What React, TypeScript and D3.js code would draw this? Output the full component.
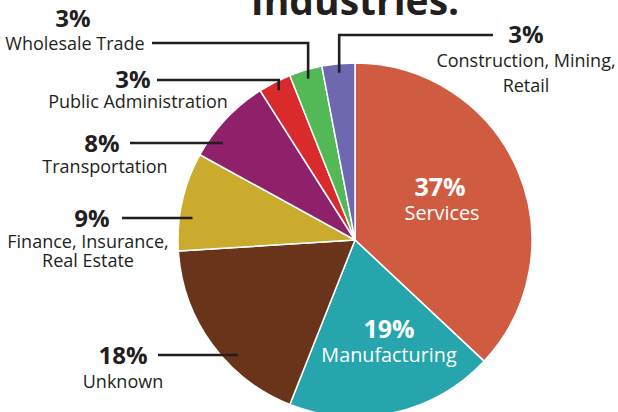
import React from 'react';
import * as d3 from 'd3';

// slices clockwise from 12 o'clock
const industries = [
  'Services',
  'Manufacturing',
  'Unknown',
  'Finance, Insurance,\nReal Estate',
  'Transportation',
  'Public Administration',
  'Wholesale Trade',
  'Construction, Mining,\nRetail',
];
const shares = [37, 19, 18, 9, 8, 3, 3, 3];
const colors = ['#cf5c40', '#26a5ad', '#6a341b', '#cbab2d', '#8e2169', '#d92b2b', '#53b856', '#6d68b0'];

const W = 618;
const H = 412;
const cx = 355;
const cy = 240;
const R = 177;
const ink = '#231f20';
const font = "'Open Sans', sans-serif";

// label layout: inside labels for big slices, leader lines for the rest
type Label = {
  i: number;
  pctX: number;
  pctY: number;
  nameX: number;
  nameY: number;
  lineH?: number;
  inside?: boolean;
  leader?: { x0: number; y: number; kind: 'h' | 'elbow' };
};

const labels: Label[] = [
  { i: 0, pctX: 440, pctY: 196, nameX: 442, nameY: 220, inside: true },
  { i: 1, pctX: 389, pctY: 338, nameX: 389, nameY: 362, inside: true },
  { i: 2, pctX: 123, pctY: 364, nameX: 123, nameY: 388, leader: { x0: 158, y: 355, kind: 'h' } },
  { i: 3, pctX: 92, pctY: 227, nameX: 88, nameY: 248, lineH: 19, leader: { x0: 122, y: 218, kind: 'h' } },
  { i: 4, pctX: 102, pctY: 152, nameX: 105, nameY: 173, leader: { x0: 130, y: 143, kind: 'h' } },
  { i: 5, pctX: 133, pctY: 88, nameX: 138, nameY: 108, leader: { x0: 157, y: 80, kind: 'elbow' } },
  { i: 6, pctX: 73, pctY: 27, nameX: 75, nameY: 50, leader: { x0: 152, y: 43, kind: 'elbow' } },
  { i: 7, pctX: 526, pctY: 43, nameX: 526, nameY: 67, lineH: 25, leader: { x0: 493, y: 35, kind: 'elbow' } },
];

export default function App() {
  const pie = d3.pie<number>().sort(null).value(d => d);
  const arcs = pie(shares);
  const arc = d3.arc<d3.PieArcDatum<number>>().innerRadius(0).outerRadius(R);

  const leaderPath = (l: Label) => {
    const a = arcs[l.i];
    const { x0, y, kind } = l.leader!;
    if (kind === 'h') {
      const rr = R - 13;
      const dy = y - cy;
      const x1 = cx - Math.sqrt(rr * rr - dy * dy);
      return d3.line()([[x0, y], [x1, y]]);
    }
    const mid = (a.startAngle + a.endAngle) / 2;
    const rr = R - 9;
    const px = cx + rr * Math.sin(mid);
    const py = cy - rr * Math.cos(mid);
    return d3.line()([[x0, y], [px, y], [px, py]]);
  };

  return (
    <svg width={W} height={H} style={{ position: 'absolute', left: 0, top: 0, background: '#fff' }} fontFamily={font}>
      <text x={cx} y={15} textAnchor="middle" fontSize={39} fontWeight={700} fill={ink}>
        Industries:
      </text>

      <g transform={`translate(${cx},${cy})`}>
        {arcs.map((a, i) => (
          <path key={i} d={arc(a) || ''} fill={colors[i]} stroke="#fff" strokeWidth={1.5} strokeLinejoin="round" />
        ))}
      </g>

      {labels.map(l => {
        const fill = l.inside ? '#fff' : ink;
        const lines = industries[l.i].split('\n');
        const lh = l.lineH ?? 20;
        return (
          <g key={l.i}>
            {l.leader && (
              <path d={leaderPath(l) || ''} fill="none" stroke={ink} strokeWidth={2.6} />
            )}
            <text x={l.pctX} y={l.pctY} textAnchor="middle" fontWeight={700} fontSize={l.inside ? 25 : 24} fill={fill}>
              {shares[l.i]}%
            </text>
            {lines.map((t, j) => (
              <text key={j} x={l.nameX} y={l.nameY + j * lh} textAnchor="middle" fontSize={l.inside ? 19.8 : 18} fill={fill}>
                {t}
              </text>
            ))}
          </g>
        );
      })}
    </svg>
  );
}
